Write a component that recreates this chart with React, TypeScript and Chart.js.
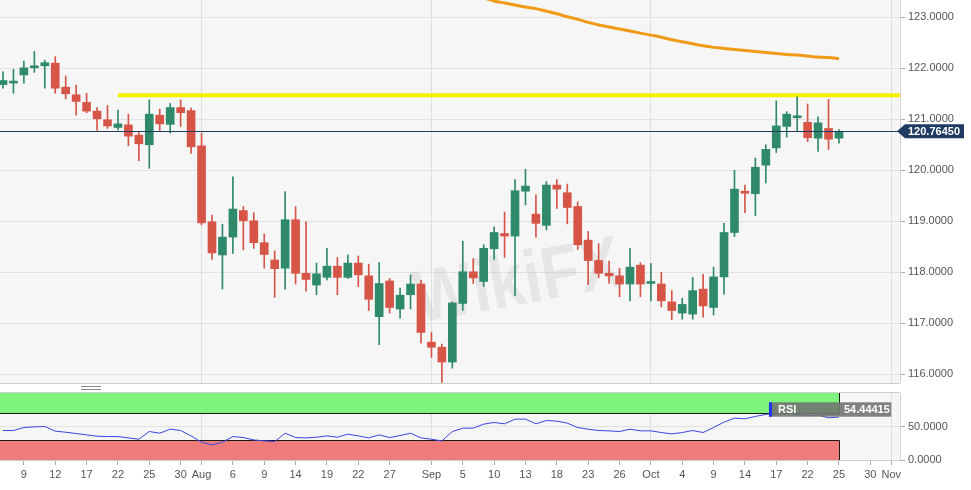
import React, { useEffect, useRef } from 'react';
import { Chart, registerables } from 'chart.js';

Chart.register(...registerables);

const FONT = '"Liberation Sans", Arial, Helvetica, sans-serif';

// ---- candle data (one per trading day, index 0..80) ----
const OPEN = [
  121.68, 121.71, 121.87, 122.01, 122.05, 122.10, 121.63, 121.48, 121.33, 121.16,
  120.99, 120.84, 120.89, 120.69, 120.50, 121.08, 120.90, 121.23, 121.17, 120.48,
  118.99, 118.34, 118.69, 119.21, 119.01, 118.58, 118.24, 118.08, 119.03, 117.98,
  117.75, 117.90, 118.12, 117.90, 118.18, 117.93, 117.13, 117.83, 117.28, 117.56,
  117.77, 116.63, 116.53, 116.24, 117.39, 118.01, 117.82, 118.46, 118.76, 118.71,
  119.59, 119.14, 118.92, 119.71, 119.56, 119.29, 118.63, 118.23, 117.98, 117.93,
  117.77, 118.14, 117.78, 117.77, 117.42, 117.20, 117.18, 117.67, 117.31, 117.91,
  118.78, 119.58, 119.54, 120.10, 120.44, 120.86, 121.03, 120.94, 120.63, 120.82,
  120.63,
];
const HIGH = [
  121.93, 121.98, 122.14, 122.33, 122.16, 122.23, 121.85, 121.67, 121.51, 121.23,
  121.27, 121.18, 121.10, 120.75, 121.38, 121.20, 121.31, 121.38, 121.22, 120.73,
  119.12, 118.94, 119.87, 119.29, 119.17, 118.75, 118.42, 119.58, 119.29, 118.99,
  118.18, 118.47, 118.29, 118.34, 118.32, 118.16, 118.19, 117.88, 117.69, 117.95,
  117.84, 116.82, 116.59, 117.42, 118.61, 118.27, 118.54, 118.89, 119.18, 119.82,
  120.02, 119.52, 119.78, 119.82, 119.73, 119.38, 118.80, 118.56, 118.22, 118.08,
  118.47, 118.19, 118.17, 118.00, 117.64, 117.49, 117.90, 117.96, 118.10, 118.96,
  120.00, 119.71, 120.24, 120.50, 121.36, 121.15, 121.44, 121.30, 121.05, 121.39,
  120.80,
];
const LOW = [
  121.61, 121.51, 121.71, 121.92, 121.61, 121.51, 121.40, 121.08, 121.13, 120.78,
  120.82, 120.79, 120.48, 120.19, 120.04, 120.78, 120.73, 120.86, 120.33, 118.93,
  118.25, 117.67, 118.37, 118.44, 118.47, 118.08, 117.51, 117.67, 117.77, 117.63,
  117.56, 117.85, 117.56, 117.88, 117.72, 117.25, 116.58, 117.20, 117.10, 117.28,
  116.61, 116.33, 115.84, 116.12, 117.25, 117.78, 117.72, 118.25, 118.29, 117.54,
  119.32, 118.69, 118.83, 119.25, 118.95, 118.45, 117.76, 117.89, 117.78, 117.52,
  117.44, 117.52, 117.44, 117.32, 117.07, 117.08, 117.08, 117.12, 117.16, 117.57,
  118.70, 119.17, 119.11, 119.75, 120.35, 120.65, 120.77, 120.56, 120.37, 120.41,
  120.53,
];
const CLOSE = [
  121.76, 121.73, 122.01, 122.03, 122.11, 121.61, 121.50, 121.35, 121.16, 121.01,
  120.87, 120.91, 120.67, 120.52, 121.10, 120.91, 121.23, 121.13, 120.46, 118.97,
  118.38, 118.69, 119.24, 119.01, 118.58, 118.35, 118.07, 119.03, 117.98, 117.86,
  117.97, 118.12, 117.90, 118.18, 117.95, 117.47, 117.78, 117.31, 117.55, 117.77,
  116.82, 116.53, 116.24, 117.40, 118.01, 117.89, 118.47, 118.78, 118.71, 119.60,
  119.69, 118.96, 119.71, 119.63, 119.27, 118.54, 118.23, 117.98, 117.93, 117.77,
  118.10, 117.77, 117.80, 117.44, 117.25, 117.37, 117.64, 117.34, 117.91, 118.78,
  119.63, 119.55, 120.06, 120.41, 120.87, 121.10, 121.05, 120.64, 120.93, 120.61,
  120.7645,
];

// 200-period moving average (visible part, starting at candle 45)
const MA_START = 45;
const MA_VALUES = [
  123.42, 123.38, 123.32, 123.28, 123.24, 123.20, 123.17, 123.12, 123.07, 123.01,
  122.96, 122.90, 122.85, 122.81, 122.77, 122.73, 122.69, 122.65, 122.61, 122.56,
  122.52, 122.48, 122.44, 122.41, 122.39, 122.37, 122.35, 122.33, 122.31, 122.29,
  122.27, 122.26, 122.24, 122.22, 122.21, 122.19,
];

// horizontal resistance line
const RES_START = 11;
const RESISTANCE = 121.47;
const LAST_PRICE = 120.7645;
const LAST_PRICE_LABEL = '120.76450';

// RSI values per candle
const RSI = [
  44, 44, 48.5, 49.5, 50, 43, 41.5, 39.5, 37.5, 35.5,
  35, 35, 33, 31, 42.5, 40, 46, 44, 36, 26.5,
  22.5, 26.5, 35, 33.5, 30, 28.5, 27.5, 40, 33.5, 33,
  34, 36, 34, 38.5, 36, 33, 37.5, 33.5, 36.5, 40,
  33, 31, 28.5, 42.5, 47.5, 47.5, 53.5, 56, 54, 61,
  61, 54, 59, 58, 55, 48.5, 46, 44, 43.5, 42.5,
  46, 43.5, 43.5, 41, 39, 41, 44, 41, 48.5, 56.5,
  62.5, 61.5, 65, 68, 70, 71, 68, 66, 67, 63,
  64,
];
const RSI_LABEL = 'RSI';
const RSI_VALUE_LABEL = '54.44415';
const RSI_UPPER = 70;
const RSI_LOWER = 30;

// x axis tick labels (candle index -> label)
const TICK_INDEX = [2, 5, 8, 11, 14, 17, 19, 22, 25, 28, 31, 34, 37, 41, 44, 47, 50, 53, 56, 59, 62, 65, 68, 71, 74, 77, 80, 83, 85];
const TICK_LABELS = ['9', '12', '17', '22', '25', '30', 'Aug', '6', '9', '14', '19', '22', '27', 'Sep', '5', '10', '13', '18', '23', '26', 'Oct', '4', '9', '14', '17', '22', '25', '30', 'Nov'];
const MONTH_INDEX = [19, 41, 62, 85];

const PRICE_TICKS = [116, 117, 118, 119, 120, 121, 122, 123];
const RSI_TICKS = [0, 50];

const WATERMARK = 'WikiFX';

const X_MIN = -0.287;
const X_MAX = 85.84;
const Y_MIN = 115.829;
const Y_MAX = 123.339;

const GREEN = '#2f8a6c';
const RED = '#d65547';
const PLOT_BG = '#f6f6f6';
const GRID = '#e2e2e2';
const AXIS_TEXT = '#555555';

const candleColors = OPEN.map((o, i) => (CLOSE[i] >= o ? GREEN : RED));

const bgPlugin = {
  id: 'bgPlugin',
  beforeDraw(chart: any) {
    const { ctx, chartArea: a, width, height } = chart;
    ctx.save();
    ctx.fillStyle = '#ffffff';
    ctx.fillRect(0, 0, width, height);
    ctx.fillStyle = PLOT_BG;
    ctx.fillRect(a.left, a.top, a.right - a.left, a.bottom - a.top);
    ctx.restore();
  },
  afterDraw(chart: any) {
    const { ctx, chartArea: a } = chart;
    ctx.save();
    ctx.strokeStyle = '#d6d6d6';
    ctx.lineWidth = 1;
    ctx.beginPath();
    ctx.moveTo(a.right + 0.5, a.top);
    ctx.lineTo(a.right + 0.5, a.bottom);
    ctx.stroke();
    ctx.restore();
  },
};

const watermarkPlugin = {
  id: 'watermarkPlugin',
  beforeDatasetsDraw(chart: any) {
    const { ctx } = chart;
    ctx.save();
    ctx.translate(518, 284);
    ctx.rotate(-0.18);
    ctx.scale(0.85, 1);
    ctx.fillStyle = 'rgba(160,160,160,0.18)';
    ctx.font = 'bold 74px ' + FONT;
    ctx.textAlign = 'center';
    ctx.textBaseline = 'middle';
    ctx.fillText(WATERMARK, 0, 0);
    ctx.restore();
  },
};

const pricePlugin = {
  id: 'pricePlugin',
  afterDatasetsDraw(chart: any) {
    const { ctx, chartArea: a, scales } = chart;
    const y = Math.round(scales.y.getPixelForValue(LAST_PRICE)) + 0.5;
    ctx.save();
    ctx.strokeStyle = '#1f3b63';
    ctx.lineWidth = 1;
    ctx.beginPath();
    ctx.moveTo(a.left, y);
    ctx.lineTo(a.right, y);
    ctx.stroke();
    ctx.restore();
  },
  afterDraw(chart: any) {
    const { ctx, chartArea: a, scales } = chart;
    const y = scales.y.getPixelForValue(LAST_PRICE);
    const x0 = a.right - 3;
    ctx.save();
    ctx.fillStyle = '#1f3b63';
    ctx.beginPath();
    ctx.moveTo(x0, y);
    ctx.lineTo(x0 + 8, y - 7);
    ctx.lineTo(x0 + 67, y - 7);
    ctx.lineTo(x0 + 67, y + 7);
    ctx.lineTo(x0 + 8, y + 7);
    ctx.closePath();
    ctx.fill();
    ctx.fillStyle = '#ffffff';
    ctx.font = 'bold 11px ' + FONT;
    ctx.textBaseline = 'middle';
    ctx.textAlign = 'left';
    ctx.fillText(LAST_PRICE_LABEL, x0 + 11, y + 0.5);
    ctx.restore();
  },
};

const bandsPlugin = {
  id: 'bandsPlugin',
  beforeDatasetsDraw(chart: any) {
    const { ctx, chartArea: a, scales } = chart;
    const x = scales.x;
    const y = scales.y;
    const xr = Math.round(x.getPixelForValue(RSI.length - 1)) + 0.5;
    const y100 = y.getPixelForValue(100);
    const yU = Math.round(y.getPixelForValue(RSI_UPPER)) + 0.5;
    const yL = Math.round(y.getPixelForValue(RSI_LOWER)) + 0.5;
    const y0 = y.getPixelForValue(0);
    ctx.save();
    ctx.fillStyle = '#7ef47e';
    ctx.fillRect(a.left, y100, xr - a.left, yU - y100);
    ctx.fillStyle = '#ef7b7b';
    ctx.fillRect(a.left, yL, xr - a.left, y0 - yL);
    ctx.strokeStyle = '#1a1a1a';
    ctx.lineWidth = 1;
    ctx.beginPath();
    ctx.moveTo(a.left, yU);
    ctx.lineTo(xr, yU);
    ctx.moveTo(a.left, yL);
    ctx.lineTo(xr, yL);
    ctx.moveTo(xr, y100);
    ctx.lineTo(xr, yU);
    ctx.moveTo(xr, yL);
    ctx.lineTo(xr, y0);
    ctx.stroke();
    ctx.restore();
  },
  afterDatasetsDraw(chart: any) {
    const { ctx, chartArea: a, scales } = chart;
    const xr = scales.x.getPixelForValue(RSI.length - 1);
    const xe = scales.x.getPixelForValue(85);
    const left = xr - 70;
    const top = a.top + 9.3;
    const h = 14.4;
    ctx.save();
    ctx.fillStyle = 'rgba(112,118,112,0.9)';
    ctx.fillRect(left, top, xr - left, h);
    ctx.fillStyle = 'rgba(118,118,118,0.92)';
    ctx.fillRect(xr, top, xe - xr, h);
    ctx.fillStyle = '#2233ee';
    ctx.fillRect(left, top, 3, h);
    ctx.fillStyle = '#ffffff';
    ctx.font = 'bold 11px ' + FONT;
    ctx.textBaseline = 'middle';
    ctx.textAlign = 'left';
    ctx.fillText(RSI_LABEL, left + 9, top + h / 2 + 0.5);
    ctx.fillText(RSI_VALUE_LABEL, xr + 5, top + h / 2 + 0.5);
    ctx.restore();
  },
};

function labelFor(v: number): string {
  const k = TICK_INDEX.indexOf(Math.round(v));
  return k >= 0 ? TICK_LABELS[k] : '';
}

const noPadY = (width: number) => (s: any) => {
  s.width = width;
  s.paddingTop = 0;
  s.paddingBottom = 0;
};
const noPadX = (height: number) => (s: any) => {
  s.height = height;
  s.paddingLeft = 0;
  s.paddingRight = 0;
};

export default function App() {
  const mainRef = useRef<HTMLCanvasElement>(null);
  const rsiRef = useRef<HTMLCanvasElement>(null);

  useEffect(() => {
    const main = new Chart(mainRef.current as HTMLCanvasElement, {
      type: 'bar',
      data: {
        datasets: [
          {
            type: 'line',
            label: 'MA',
            data: MA_VALUES.map((v, k) => ({ x: MA_START + k, y: v })),
            borderColor: '#f09a17',
            borderWidth: 3,
            pointRadius: 0,
            tension: 0.4,
            cubicInterpolationMode: 'monotone',
            order: 4,
          } as any,
          {
            type: 'line',
            label: 'Resistance',
            data: [
              { x: RES_START, y: RESISTANCE },
              { x: X_MAX + 1, y: RESISTANCE },
            ],
            borderColor: '#f6ef00',
            borderWidth: 4,
            pointRadius: 0,
            order: 3,
          } as any,
          {
            type: 'bar',
            label: 'Wick',
            data: HIGH.map((h, i) => ({ x: i, y: [LOW[i], h] })),
            backgroundColor: candleColors,
            barThickness: 1,
            grouped: false,
            order: 2,
          } as any,
          {
            type: 'bar',
            label: 'Body',
            data: OPEN.map((o, i) => ({ x: i, y: [o, CLOSE[i]] })),
            backgroundColor: candleColors,
            barThickness: 8,
            minBarLength: 2,
            grouped: false,
            order: 1,
          } as any,
        ],
      },
      options: {
        animation: false,
        responsive: true,
        maintainAspectRatio: false,
        events: [],
        layout: { padding: 0 },
        plugins: { legend: { display: false }, tooltip: { enabled: false } },
        scales: {
          x: {
            type: 'linear',
            offset: false,
            min: X_MIN,
            max: X_MAX,
            afterBuildTicks: (s: any) => {
              s.ticks = MONTH_INDEX.map((v) => ({ value: v }));
            },
            ticks: { display: false },
            grid: { color: '#dedede', drawTicks: false, offset: false },
            border: { display: true, color: '#d0d0d0' },
            afterFit: noPadX(0),
          },
          y: {
            position: 'right',
            min: Y_MIN,
            max: Y_MAX,
            afterBuildTicks: (s: any) => {
              s.ticks = PRICE_TICKS.map((v) => ({ value: v }));
            },
            ticks: {
              callback: (v: any) => Number(v).toFixed(4),
              color: AXIS_TEXT,
              font: { family: FONT, size: 11 },
              padding: 3,
            },
            grid: { color: GRID, tickLength: 5, tickColor: '#aaaaaa' },
            border: { display: false },
            afterFit: noPadY(71),
          },
        },
      } as any,
      plugins: [bgPlugin, watermarkPlugin, pricePlugin],
    });

    const rsi = new Chart(rsiRef.current as HTMLCanvasElement, {
      type: 'line',
      data: {
        datasets: [
          {
            label: 'RSI',
            data: RSI.map((v, i) => ({ x: i, y: v })),
            borderColor: '#3a45e0',
            borderWidth: 1,
            pointRadius: 0,
            tension: 0,
          },
        ],
      },
      options: {
        animation: false,
        responsive: true,
        maintainAspectRatio: false,
        events: [],
        layout: { padding: 0 },
        plugins: { legend: { display: false }, tooltip: { enabled: false } },
        scales: {
          x: {
            type: 'linear',
            offset: false,
            min: X_MIN,
            max: X_MAX,
            afterBuildTicks: (s: any) => {
              s.ticks = TICK_INDEX.map((v) => ({ value: v }));
            },
            ticks: {
              callback: (v: any) => labelFor(Number(v)),
              color: AXIS_TEXT,
              font: { family: FONT, size: 11 },
              autoSkip: false,
              maxRotation: 0,
              padding: 3,
            },
            grid: {
              color: (ctx: any) =>
                ctx.tick && MONTH_INDEX.indexOf(Math.round(ctx.tick.value)) >= 0 ? '#dedede' : 'rgba(0,0,0,0)',
              tickLength: 5,
              tickColor: '#aaaaaa',
            },
            border: { display: true, color: '#d0d0d0' },
            afterFit: noPadX(30),
          },
          y: {
            position: 'right',
            min: 0,
            max: 100,
            afterBuildTicks: (s: any) => {
              s.ticks = RSI_TICKS.map((v) => ({ value: v }));
            },
            ticks: {
              callback: (v: any) => Number(v).toFixed(4),
              color: AXIS_TEXT,
              font: { family: FONT, size: 11 },
              padding: 3,
            },
            grid: { color: GRID, tickLength: 5, tickColor: '#aaaaaa' },
            border: { display: false },
            afterFit: noPadY(71),
          },
        },
      } as any,
      plugins: [bgPlugin, bandsPlugin],
    });

    return () => {
      main.destroy();
      rsi.destroy();
    };
  }, []);

  return (
    <div style={{ position: 'fixed', left: 0, top: 0, width: 971, height: 490, background: '#ffffff', overflow: 'hidden' }}>
      <div style={{ position: 'absolute', left: 0, top: 0, width: 971, height: 383 }}>
        <canvas ref={mainRef} />
      </div>
      <div
        style={{
          position: 'absolute',
          left: 0,
          top: 383,
          width: 900,
          height: 8,
          borderTop: '1px solid #d0d0d0',
          borderBottom: '1px solid #d0d0d0',
          background: '#ffffff',
        }}
      >
        <div style={{ position: 'absolute', left: 81, top: 2, width: 20, height: 2, borderTop: '1px solid #8a8a8a', borderBottom: '1px solid #8a8a8a' }} />
      </div>
      <div style={{ position: 'absolute', left: 0, top: 393, width: 971, height: 97 }}>
        <canvas ref={rsiRef} />
      </div>
    </div>
  );
}
